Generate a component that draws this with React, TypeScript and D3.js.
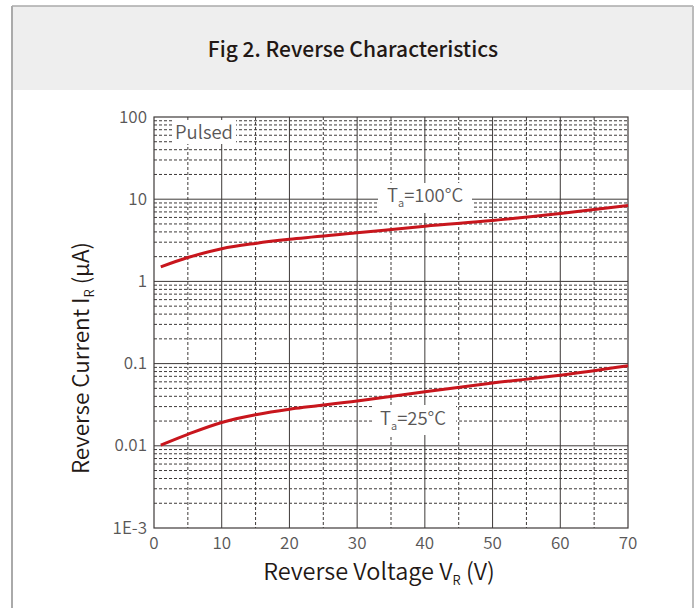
import React from "react";
import * as d3 from "d3";

// x = reverse voltage (V)
const voltage = [1, 5, 10, 15, 20, 30, 40, 50, 60, 70];
const current100C = [1.5, 1.95, 2.5, 2.9, 3.25, 3.9, 4.7, 5.5, 6.7, 8.4]; // µA
const current25C = [0.0102, 0.0138, 0.0192, 0.0238, 0.0278, 0.035, 0.0455, 0.058, 0.072, 0.094];

const xTicks = [0, 10, 20, 30, 40, 50, 60, 70];
const xMinorTicks = [5, 15, 25, 35, 45, 55, 65];
const yTicks = [1e-3, 0.01, 0.1, 1, 10, 100];
const yTickLabels = ["1E-3", "0.01", "0.1", "1", "10", "100"];

const FONT = "'Noto Sans CJK SC', 'Noto Sans', sans-serif";

const App: React.FC = () => {
  const width = 700;
  const height = 608;
  const plot = { left: 154, right: 628, top: 117, bottom: 528 };

  const x = d3.scaleLinear().domain([0, 70]).range([plot.left, plot.right]);
  const y = d3.scaleLog().domain([1e-3, 100]).range([plot.bottom, plot.top]);

  // 2..9 within each decade
  const minorY: number[] = [];
  yTicks.slice(0, -1).forEach((d) => {
    for (let k = 2; k <= 9; k++) minorY.push(d * k);
  });

  const line = d3
    .line<[number, number]>()
    .x((d) => x(d[0]))
    .y((d) => y(d[1]))
    .curve(d3.curveCatmullRom.alpha(0.5));

  const hot = voltage.map((v, i) => [v, current100C[i]] as [number, number]);
  const room = voltage.map((v, i) => [v, current25C[i]] as [number, number]);

  const gridDark = "#3e3a39";
  const textGray = "#595757";
  const w = 350;

  return (
    <svg
      width={width}
      height={height}
      style={{ position: "absolute", left: 0, top: 0, background: "#fff" }}
      fontFamily={FONT}
    >
      {/* card */}
      <rect x={12} y={6} width={680} height={84} fill="#eeeeee" />
      <line x1={12} y1={6} x2={693} y2={6} stroke="#aaaaaa" strokeWidth={1.5} />
      <line x1={12} y1={6} x2={12} y2={608} stroke="#aaaaaa" strokeWidth={2} />
      <line x1={693} y1={6} x2={693} y2={608} stroke="#bbbbbb" strokeWidth={2} />
      <text x={353} y={57} textAnchor="middle" fontSize={21} fontWeight={500} fill="#231815">
        Fig 2. Reverse Characteristics
      </text>

      {/* dashed grid */}
      {minorY.map((d) => (
        <line key={"my" + d} x1={plot.left} x2={plot.right} y1={y(d)} y2={y(d)}
          stroke={gridDark} strokeWidth={1} strokeDasharray="3,2" />
      ))}
      {xMinorTicks.map((d) => (
        <line key={"mx" + d} x1={x(d)} x2={x(d)} y1={plot.top} y2={plot.bottom}
          stroke={gridDark} strokeWidth={1} strokeDasharray="3,2" />
      ))}

      {/* solid grid */}
      {xTicks.slice(1, -1).map((d) => (
        <line key={"x" + d} x1={x(d)} x2={x(d)} y1={plot.top} y2={plot.bottom}
          stroke={gridDark} strokeWidth={1} />
      ))}
      {yTicks.slice(1, -1).map((d) => (
        <line key={"y" + d} x1={plot.left} x2={plot.right} y1={y(d)} y2={y(d)}
          stroke={gridDark} strokeWidth={1} />
      ))}

      {/* label backgrounds */}
      <rect x={172} y={120} width={64} height={24} fill="#fff" />
      <rect x={378} y={183} width={94} height={30} fill="#fff" />
      <rect x={372} y={405} width={84} height={30} fill="#fff" />

      <rect x={plot.left} y={plot.top} width={plot.right - plot.left} height={plot.bottom - plot.top}
        fill="none" stroke={gridDark} strokeWidth={1.2} />

      {/* curves */}
      <path d={line(hot) || ""} fill="none" stroke="#c8161d" strokeWidth={3} />
      <path d={line(room) || ""} fill="none" stroke="#c8161d" strokeWidth={3} />

      {/* in-plot labels */}
      <text x={175} y={139} fontSize={18.5} fontWeight={w} fill={textGray}>Pulsed</text>
      <text x={387} y={202} fontSize={18.5} fontWeight={w} fill={textGray}>
        T<tspan fontSize={11} dy={5}>a</tspan><tspan dy={-5}>=100°C</tspan>
      </text>
      <text x={380} y={425} fontSize={18.5} fontWeight={w} fill={textGray}>
        T<tspan fontSize={11} dy={5}>a</tspan><tspan dy={-5}>=25°C</tspan>
      </text>

      {/* tick labels */}
      {yTicks.map((d, i) => (
        <text key={"yl" + d} x={147} y={y(d) + 5.5} textAnchor="end" fontSize={17} fontWeight={w} fill={textGray}>
          {yTickLabels[i]}
        </text>
      ))}
      {xTicks.map((d) => (
        <text key={"xl" + d} x={x(d)} y={549} textAnchor="middle" fontSize={17} fontWeight={w} fill={textGray}>
          {d}
        </text>
      ))}

      {/* axis titles */}
      <text x={379} y={580} textAnchor="middle" fontSize={23.5} fontWeight={w} fill="#231815">
        Reverse Voltage V<tspan fontSize={13} dy={5}>R</tspan><tspan dy={-5}> (V)</tspan>
      </text>
      <text transform="translate(89,358) rotate(-90)" textAnchor="middle" fontSize={22.5} fontWeight={w} fill="#231815">
        Reverse Current I<tspan fontSize={13} dy={5}>R</tspan><tspan dy={-5}> (µA)</tspan>
      </text>
    </svg>
  );
};

export default App;
